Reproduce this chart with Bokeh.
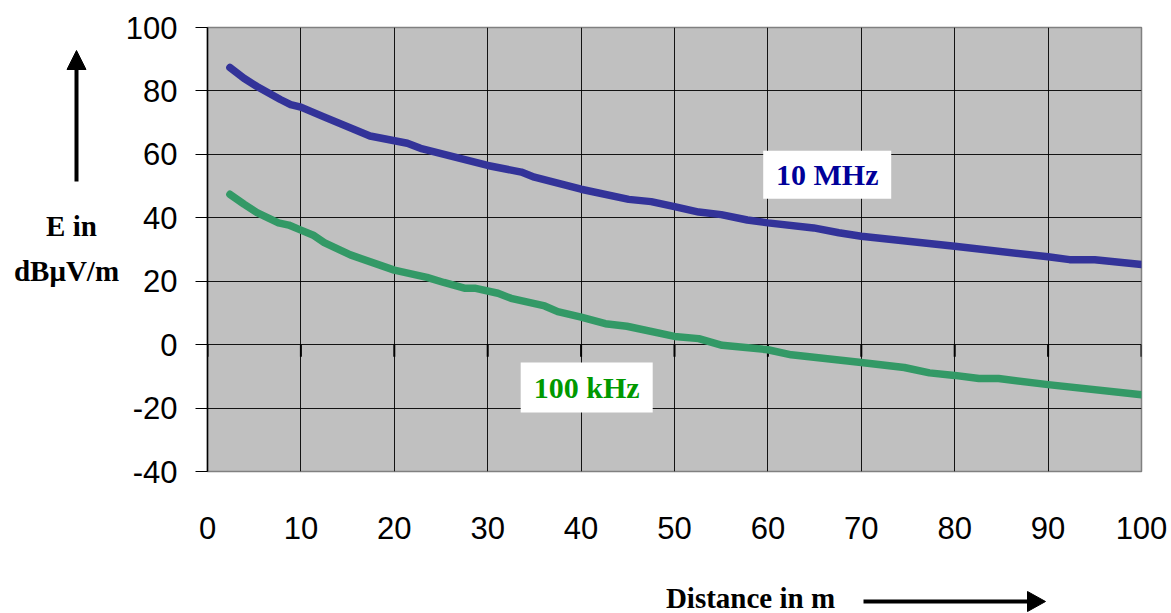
import math
from bokeh.plotting import figure
from bokeh.models import FixedTicker, Label, Range1d
from bokeh.layouts import row, column
from bokeh.core.properties import value
from bokeh.embed import file_html
from bokeh.resources import INLINE

# ---- data ----
x_ticks = [0, 10, 20, 30, 40, 50, 60, 70, 80, 90, 100]
y_ticks = [-40, -20, 0, 20, 40, 60, 80, 100]

dist_10mhz = [2.4, 3.9, 5.3, 7.8, 8.9, 10, 12.4, 17.4, 21.4, 22.8, 30, 33.6, 35, 40,
              45.1, 47.5, 50, 52.6, 55, 57.8, 60, 64.9, 67.6, 70, 80, 90, 92.3, 95, 100]
e_10mhz = [87.4, 84.0, 81.4, 77.3, 75.7, 74.9, 71.9, 65.8, 63.5, 61.9, 56.5, 54.4, 52.8, 49.0,
           45.8, 45.1, 43.5, 41.8, 41.0, 39.3, 38.4, 36.8, 35.3, 34.2, 31.0, 27.7, 26.8, 26.8, 25.3]

dist_100khz = [2.4, 3.9, 5.3, 7.6, 8.7, 10, 11.4, 12.5, 15.3, 20, 23.5, 25.3, 27.5, 28.6, 31.1,
               32.5, 36.1, 37.5, 40, 42.6, 44.9, 50, 52.6, 55.1, 60, 62.5, 70, 74.6, 77.3, 80,
               82.6, 84.7, 90, 100]
e_100khz = [47.4, 44.3, 41.6, 38.4, 37.7, 36.1, 34.4, 32.2, 28.3, 23.5, 21.2, 19.6, 17.8, 17.8, 16.2,
            14.6, 12.2, 10.4, 8.7, 6.6, 5.8, 2.6, 1.9, -0.2, -1.6, -3.2, -5.6, -7.2, -8.9, -9.7,
            -10.7, -10.7, -12.6, -15.8]

label_10mhz = "10 MHz"
label_100khz = "100 kHz"
y_title = ["E in", "dB\u03bcV/m"]
x_title = "Distance in m"

TICK_FONT = "Liberation Sans"
SERIF = "Liberation Serif"

TOTAL_W, TOTAL_H = 1171, 613
LEFT_W = 122
MAIN_H = 580
BOTTOM_H = TOTAL_H - MAIN_H
FRAME_L, FRAME_R, FRAME_T, FRAME_B = 207, 1141, 27, 471

# ---------------- main chart ----------------
p = figure(width=TOTAL_W - LEFT_W, height=MAIN_H, x_range=Range1d(0, 100), y_range=Range1d(-40, 100),
           output_backend="svg", toolbar_location=None,
           min_border_left=FRAME_L - LEFT_W, min_border_right=TOTAL_W - FRAME_R,
           min_border_top=FRAME_T, min_border_bottom=MAIN_H - FRAME_B,
           background_fill_color="#c0c0c0", border_fill_color="white")
p.outline_line_color = "#808080"
p.outline_line_width = 1.5

p.xgrid.ticker = FixedTicker(ticks=x_ticks)
p.ygrid.ticker = FixedTicker(ticks=y_ticks)
p.grid.grid_line_color = "black"
p.grid.grid_line_alpha = 0.9
p.grid.grid_line_width = 1

p.xaxis.ticker = FixedTicker(ticks=x_ticks)
p.xaxis.axis_line_color = None
p.xaxis.major_tick_line_color = None
p.xaxis.minor_tick_line_color = None
p.xaxis.major_label_standoff = 39
p.xaxis.major_label_text_font = TICK_FONT
p.xaxis.major_label_text_font_size = "31px"
p.xaxis.major_label_text_color = "black"

p.yaxis.ticker = FixedTicker(ticks=y_ticks)
p.yaxis.axis_line_color = "black"
p.yaxis.axis_line_width = 1.5
p.yaxis.major_tick_out = 12
p.yaxis.major_tick_in = 0
p.yaxis.major_tick_line_color = "black"
p.yaxis.minor_tick_line_color = None
p.yaxis.major_label_standoff = 18
p.yaxis.major_label_text_font = TICK_FONT
p.yaxis.major_label_text_font_size = "31px"
p.yaxis.major_label_text_color = "black"
p.yaxis.major_label_overrides = {t: str(t) for t in y_ticks if t < 0}

# tick marks of the category axis crossing at 0 (pointing down)
p.ray(x=x_ticks, y=[0] * len(x_ticks), length=12, length_units="screen",
      angle=-math.pi / 2, line_color="black", line_width=2)

# curves
p.line(dist_10mhz, e_10mhz, line_color="#333399", line_width=7.5, line_cap="round", line_join="round")
p.line(dist_100khz, e_100khz, line_color="#339966", line_width=7.5, line_cap="round", line_join="round")

# series labels in white boxes
p.rect(x=[66.35], y=[53.6], width=128, height=48, width_units="screen", height_units="screen",
       fill_color="white", line_color=None)
p.rect(x=[40.6], y=[-13.5], width=132, height=50, width_units="screen", height_units="screen",
       fill_color="white", line_color=None)
p.add_layout(Label(x=66.35, y=53.6, text=label_10mhz, text_align="center", text_baseline="middle",
                   text_font=SERIF, text_font_style="bold", text_font_size="30px", text_color="#000099"))
p.add_layout(Label(x=40.6, y=-13.5, text=label_100khz, text_align="center", text_baseline="middle",
                   text_font=SERIF, text_font_style="bold", text_font_size="30px", text_color="#009900"))

# ---------------- left strip: y title + arrow ----------------
# frame aligned with the main chart's frame; y range expressed in canvas pixels
left = figure(width=LEFT_W, height=MAIN_H, x_range=Range1d(0, LEFT_W), y_range=Range1d(FRAME_B, FRAME_T),
              output_backend="svg", toolbar_location=None, x_axis_location=None, y_axis_location=None,
              min_border_left=0, min_border_right=0, min_border_top=FRAME_T,
              min_border_bottom=MAIN_H - FRAME_B, outline_line_color=None,
              background_fill_color="white", border_fill_color="white")
left.grid.visible = False
left.text(x=[71, 66], y=[225, 270], text=y_title, text_align="center", text_baseline="middle",
          text_font=value(SERIF), text_font_style="bold", text_font_size="29px", text_color="black")
left.segment(x0=[76], y0=[181], x1=[76], y1=[66], line_color="black", line_width=4)
left.patch(x=[66.5, 85.5, 76], y=[69, 69, 50], fill_color="black", line_color="black")

# ---------------- bottom strip: x title + arrow ----------------
bottom = figure(width=TOTAL_W, height=BOTTOM_H, x_range=Range1d(0, TOTAL_W), y_range=Range1d(BOTTOM_H, 0),
                output_backend="svg", toolbar_location=None, x_axis_location=None, y_axis_location=None,
                min_border=0, outline_line_color=None, background_fill_color="white",
                border_fill_color="white")
bottom.grid.visible = False
bottom.text(x=[750], y=[17], text=[x_title], text_align="center", text_baseline="middle",
            text_font=value(SERIF), text_font_style="bold", text_font_size="29px", text_color="black")
bottom.segment(x0=[863], y0=[21], x1=[1030], y1=[21], line_color="black", line_width=4)
bottom.patch(x=[1027, 1027, 1045], y=[11, 31, 21], fill_color="black", line_color="black")

layout = column(row(left, p), bottom)
open("out.html", "w").write(file_html(layout, INLINE))
